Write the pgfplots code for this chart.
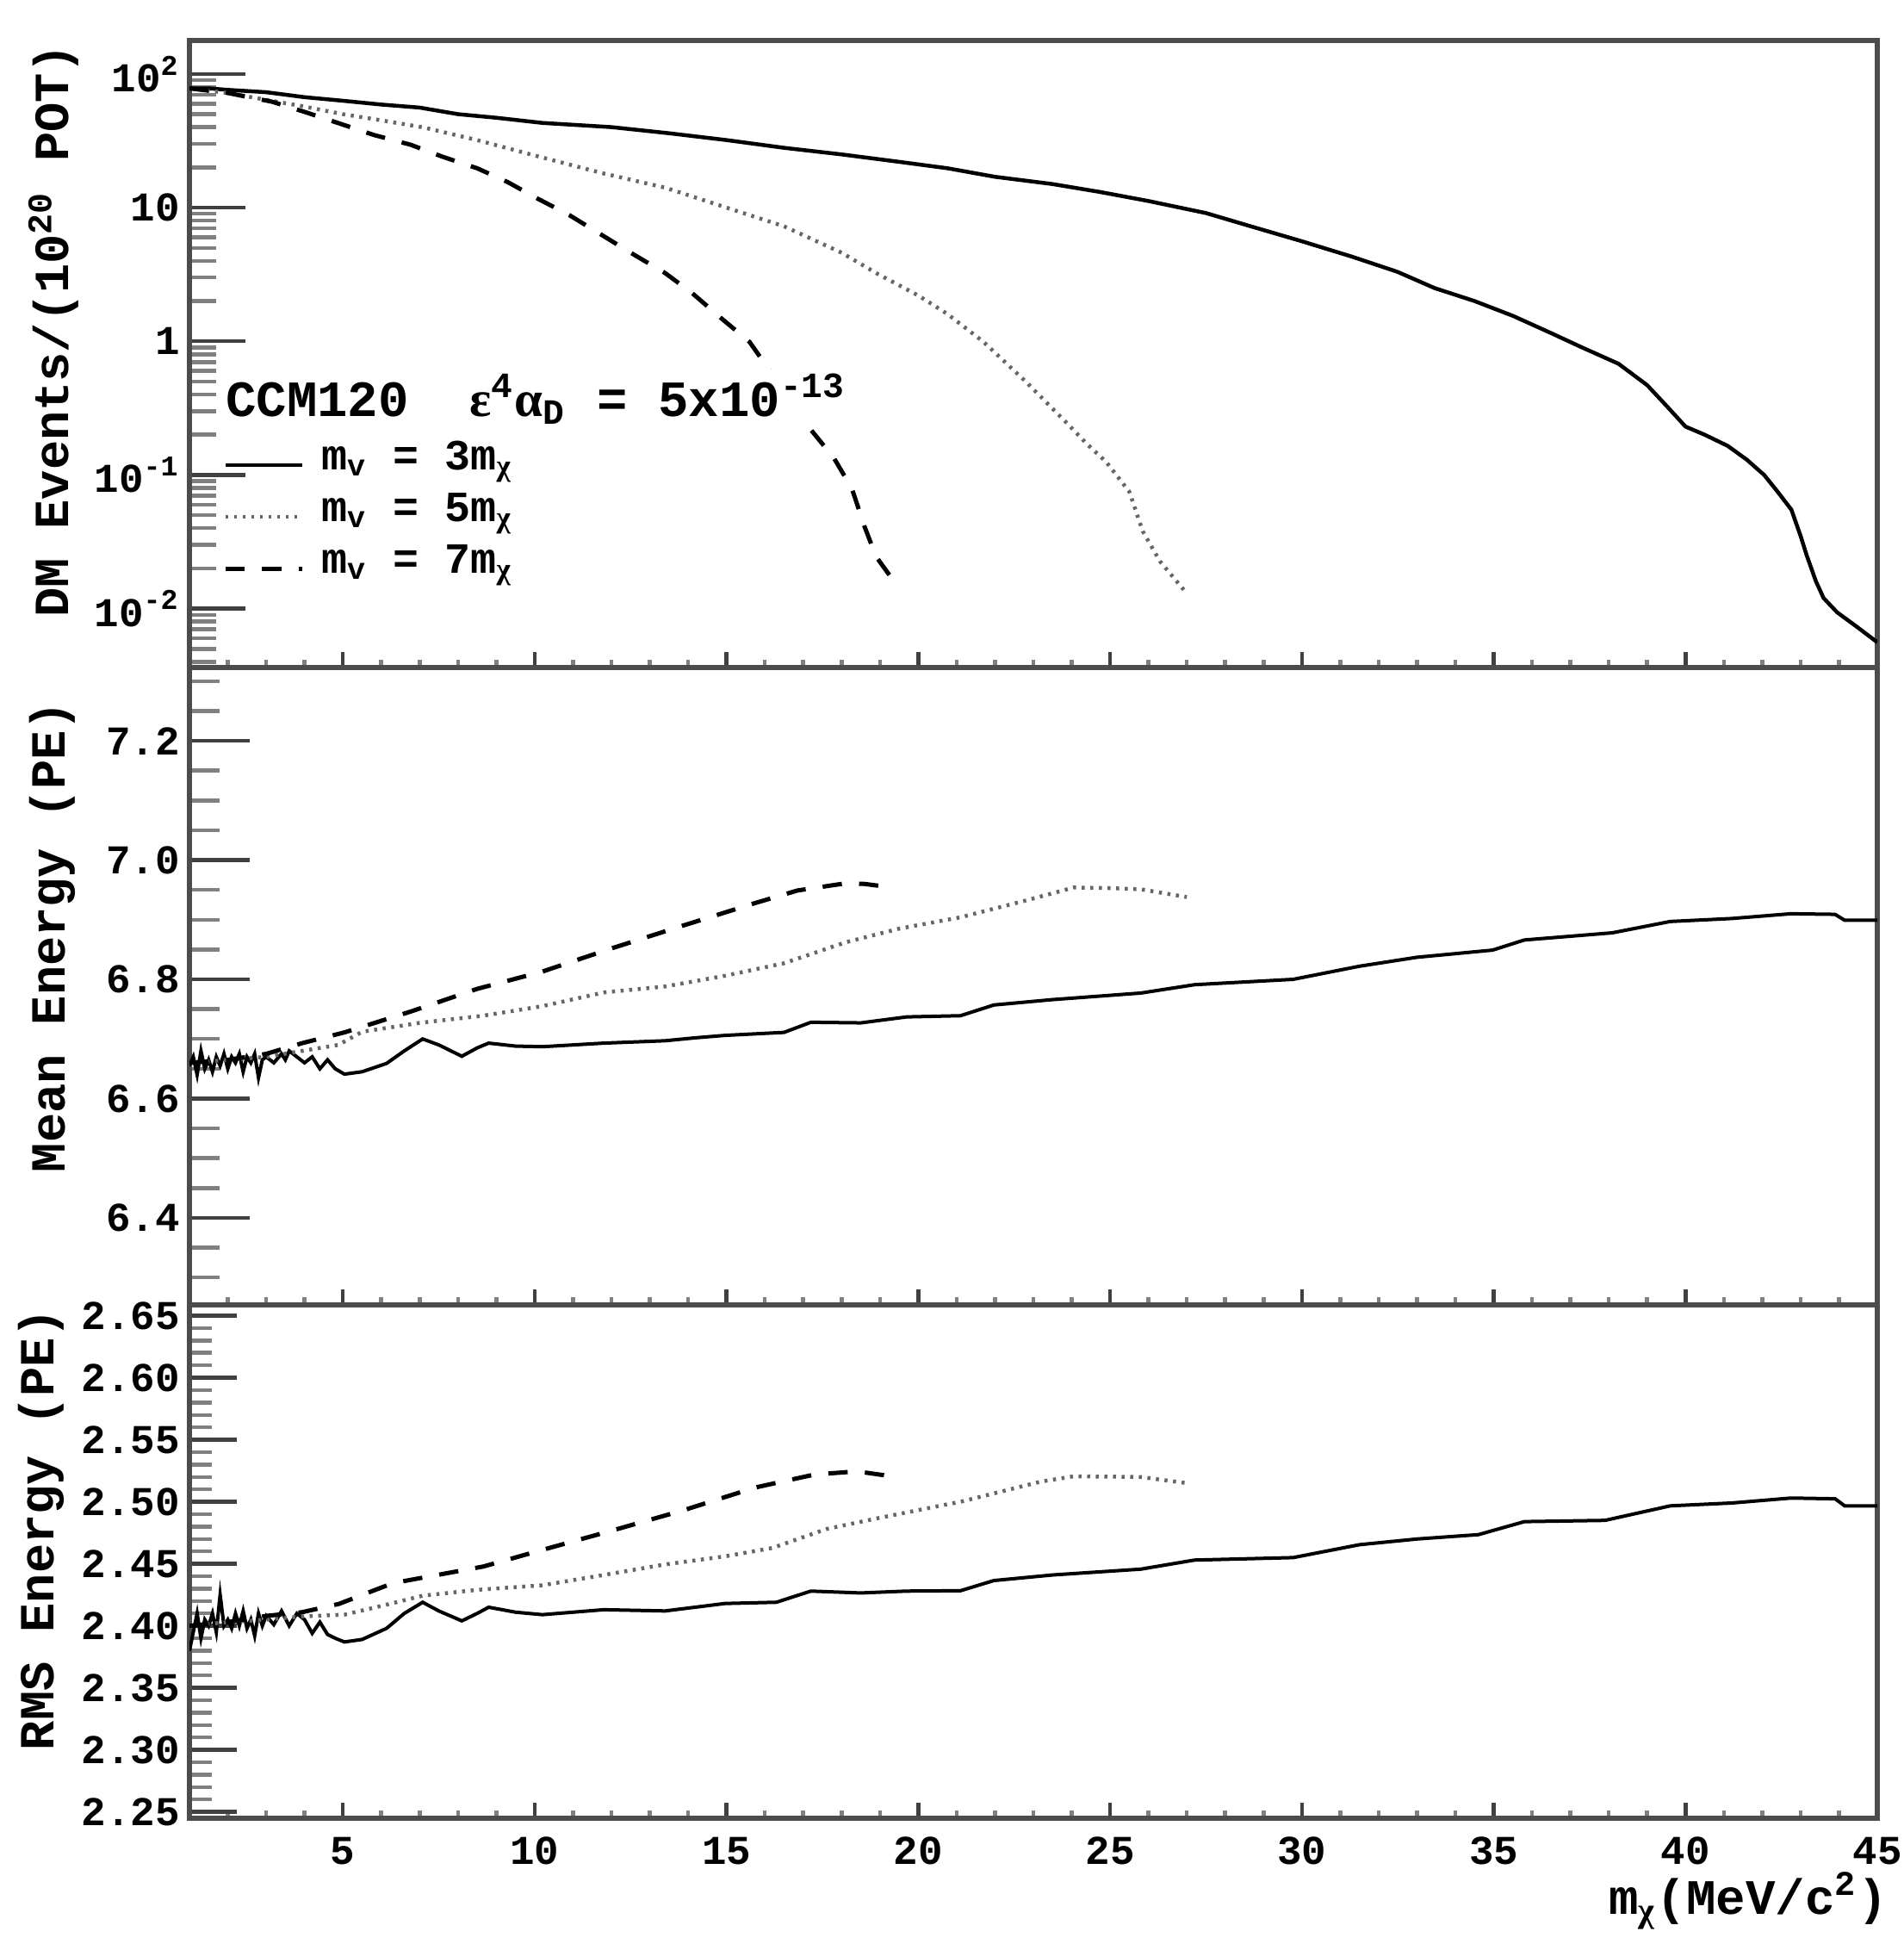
\documentclass[border=0pt]{standalone}
\usepackage{fontspec}
\setmainfont{Liberation Mono}
\newfontfamily\gr{Liberation Serif}
\usepackage{pgfplots}
\pgfplotsset{compat=1.18}
\pgfplotsset{
  ccm/.style={
    scale only axis, width=392pt,
    xmin=1, xmax=45,
    axis line style={draw=black!70, line width=1.1pt},
    tick align=inside,
    xtick pos=left, ytick pos=left,
    xtick={5,10,...,45},
    minor xtick={1,2,...,45},
    major tick length=3.6pt, minor tick length=1.8pt,
    tick style={color=black!75, line width=0.9pt},
    minor tick style={color=black!50},
    /pgf/number format/assume math mode=true,
    ticklabel style={font=\bfseries\fontsize{9.5}{10}\selectfont},
    xticklabel style={inner sep=0pt, yshift=-4.2pt},
    yticklabel style={inner sep=0pt, xshift=-2pt},
    label style={font=\bfseries\fontsize{11.4}{12}\selectfont},
    ylabel style={anchor=east, inner sep=0pt},
  },
  solidc/.style={black, line width=0.9pt},
  dotc/.style={black!60, line width=0.9pt, dash pattern=on 0.7pt off 1.3pt},
  dashc/.style={black, line width=1pt, dash pattern=on 4.5pt off 4pt},
}
\begin{document}
\begin{tikzpicture}
\useasboundingbox (-44pt,-29.2pt) rectangle (398pt,422.2pt);
% ---------------- top panel
\begin{axis}[ccm, at={(0,267.2pt)}, anchor=south west, height=145.6pt,
  ymode=log, ymin=0.00363, ymax=178,
  ytick={0.01,0.1,1,10,100},
  yticklabels={10\textsuperscript{-2},10\textsuperscript{-1},1,10,10\textsuperscript{2}},
  minor ytick={0.004,0.005,0.006,0.007,0.008,0.009,0.02,0.03,0.04,0.05,0.06,0.07,0.08,0.09,0.2,0.3,0.4,0.5,0.6,0.7,0.8,0.9,2,3,4,5,6,7,8,9,20,30,40,50,60,70,80,90},
  ytick style={/pgfplots/major tick length=13pt, /pgfplots/minor tick length=6.2pt},
  xticklabels={},
  ylabel={DM Events/(10\textsuperscript{20} POT)},
  ylabel style={at={(rel axis cs:-0.0806,0.996)}},
  legend style={at={(rel axis cs:0.022,0.379)}, anchor=north west, draw=none, fill=none,
    xshift=-4pt,
    font=\bfseries\fontsize{10}{10}\selectfont, row sep=0pt,
    nodes={inner sep=0pt, text height=7pt, text depth=5pt},
    /tikz/every odd column/.append style={column sep=4pt}},
  legend cell align=left,
  legend image code/.code={\draw[#1] (0pt,0pt) -- (17.8pt,0pt);},
]
\addplot[solidc] coordinates {
(1.0,78) (1.5,78) (2,76) (3,73) (4,67) (5,63) (6,59) (7,56) (8,50) (9,47) (10.2,43)
(12,40) (13.5,36) (15,32) (16.5,28) (18,25) (19.5,22) (20.76,19.7) (22,17) (23.5,15)
(24.73,13.1) (26,11.2) (27.5,9.1) (28.7,7.2) (30,5.6) (31.3,4.3) (32.5,3.3) (33.46,2.5)
(34.5,2.0) (35.5,1.55) (36.5,1.15) (37.3,0.9) (38.25,0.68) (39.0,0.47) (39.5,0.33)
(40.0,0.23) (40.5,0.2) (41.1,0.165) (41.6,0.13) (42.05,0.1) (42.4,0.075) (42.76,0.055)
(43.0,0.035) (43.16,0.025) (43.4,0.016) (43.6,0.012) (43.95,0.0094) (44.5,0.0072) (45,0.0056)
};
\addlegendentry{m\textsubscript{v} = 3m\textsubscript{{\gr χ}}}
\addplot[dotc] coordinates {
(1.0,78) (2,72) (3,64) (3.9,57.7) (5,50) (6,45) (7.1,39.8) (8.5,32) (10.2,23.7) (11.8,18)
(13.4,14.1) (15,10) (16.5,7.25) (18,4.6) (18.9,3.24) (20,2.2) (20.76,1.6) (21.7,0.99)
(22.8,0.50) (23.9,0.24) (24.4,0.17) (24.9,0.125) (25.5,0.075) (25.85,0.038) (26.3,0.0226) (27.0,0.013)
};
\addlegendentry{m\textsubscript{v} = 5m\textsubscript{{\gr χ}}}
\addplot[dashc] coordinates {
(1.0,78) (2,72) (3.15,62) (4.0,52) (4.9,42.7) (5.8,35) (6.77,29.5) (7.6,24) (8.5,19.7)
(9.3,15.5) (10.07,11.7) (10.9,8.8) (11.65,6.5) (12.5,4.6) (13.4,3.24) (14.1,2.3) (14.8,1.54)
(15.6,0.99) (16.0,0.68) (16.6,0.4) (17.16,0.225) (17.8,0.134) (18.27,0.079) (18.6,0.041)
(18.9,0.0245) (19.3,0.017)
};
\addlegendentry{m\textsubscript{v} = 7m\textsubscript{{\gr χ}}}
\node[anchor=base west, fill=white, inner sep=1pt, font=\bfseries\fontsize{11.8}{12}\selectfont]
  at (rel axis cs:0.0185,0.401)
  {CCM120~~{\gr ε}\textsuperscript{4}{\gr α}\textsubscript{D} = 5x10\textsuperscript{-13}};
\end{axis}
% ---------------- middle panel
\begin{axis}[ccm, at={(0,119.2pt)}, anchor=south west, height=148pt,
  ymin=6.254, ymax=7.323,
  ytick={6.4,6.6,6.8,7.0,7.2},
  yticklabels={6.4,6.6,6.8,7.0,7.2},
  minor ytick={6.25,6.3,6.35,6.4,6.45,6.5,6.55,6.6,6.65,6.7,6.75,6.8,6.85,6.9,6.95,7.0,7.05,7.1,7.15,7.2,7.25,7.3},
  ytick style={/pgfplots/major tick length=14pt, /pgfplots/minor tick length=7pt},
  xticklabels={},
  ylabel={Mean Energy (PE)},
  ylabel style={at={(rel axis cs:-0.0811,0.949)}},
]
\addplot[solidc, line width=0.8pt] coordinates {
(1.0,6.655) (1.1,6.67) (1.2,6.64) (1.3,6.68) (1.4,6.65) (1.5,6.665) (1.6,6.645) (1.7,6.67)
(1.8,6.655) (1.9,6.675) (2.0,6.65) (2.1,6.67) (2.2,6.66) (2.3,6.675) (2.4,6.645) (2.5,6.67)
(2.6,6.66) (2.7,6.675) (2.8,6.635) (2.9,6.665) (3.0,6.67) (3.2,6.66) (3.4,6.675) (3.5,6.665)
(3.6,6.68) (3.8,6.67) (4.0,6.66) (4.2,6.67) (4.4,6.65) (4.6,6.665) (4.8,6.65) (5.04,6.641)
(5.5,6.645) (6.14,6.659) (6.6,6.68) (7.08,6.70) (7.5,6.69) (8.1,6.671) (8.5,6.685) (8.8,6.693)
(9.5,6.688) (10.2,6.687) (11,6.69) (11.8,6.693) (12.6,6.695) (13.4,6.697) (14.2,6.702)
(14.96,6.706) (16.5,6.711) (17.2,6.728) (18.5,6.727) (19.7,6.737) (21.1,6.739) (21.97,6.757)
(23.5,6.766) (25.8,6.777) (27.2,6.791) (29.77,6.80) (31.5,6.822) (33,6.837) (34.97,6.849)
(35.8,6.866) (38.09,6.878) (39.6,6.897) (41.2,6.902) (42.75,6.910) (43.9,6.909) (44.15,6.899) (45,6.899)
};
\addplot[dotc] coordinates {
(1.0,6.66) (2,6.665) (3,6.67) (3.94,6.68) (4.88,6.69) (5.5,6.712) (7,6.727) (8.66,6.739)
(10.2,6.755) (11.8,6.778) (13.4,6.788) (14.96,6.806) (16.5,6.827) (18.1,6.862) (19.5,6.885)
(21.1,6.904) (22.85,6.933) (24.05,6.954) (25.0,6.953) (25.8,6.951) (27.0,6.938)
};
\addplot[dashc] coordinates {
(1,6.66) (2,6.665) (3,6.675) (3.94,6.693) (5.04,6.711) (6.77,6.746) (8.5,6.784) (10.2,6.813)
(11.96,6.851) (13.86,6.890) (15.75,6.928) (16.85,6.949) (18.1,6.961) (18.6,6.96) (19.2,6.955)
};
\end{axis}
% ---------------- bottom panel
\begin{axis}[ccm, at={(0,0)}, anchor=south west, height=119.2pt,
  ymin=2.2449, ymax=2.6587,
  ytick={2.25,2.30,2.35,2.40,2.45,2.50,2.55,2.60,2.65},
  yticklabels={2.25,2.30,2.35,2.40,2.45,2.50,2.55,2.60,2.65},
  minor ytick={2.25,2.26,...,2.65},
  ytick style={/pgfplots/major tick length=11pt, /pgfplots/minor tick length=5.2pt},
  xticklabels={5,10,15,20,25,30,35,40,45},
  ylabel={RMS Energy (PE)},
  ylabel style={at={(rel axis cs:-0.088,0.995)}},
  xlabel={m\textsubscript{{\gr χ}}(MeV/c\textsuperscript{2})},
  xlabel style={at={(rel axis cs:1,0)}, anchor=base east, yshift=-22.3pt, xshift=2.6pt,
    inner sep=0pt, font=\bfseries\fontsize{11.5}{12}\selectfont},
]
\addplot[solidc, line width=0.8pt] coordinates {
(1.0,2.38) (1.1,2.395) (1.2,2.41) (1.3,2.39) (1.4,2.405) (1.5,2.40) (1.6,2.41) (1.7,2.395)
(1.8,2.425) (1.9,2.40) (2.0,2.405) (2.1,2.398) (2.2,2.41) (2.3,2.40) (2.4,2.412) (2.5,2.398)
(2.6,2.405) (2.7,2.392) (2.8,2.41) (2.9,2.40) (3.0,2.408) (3.2,2.401) (3.4,2.412) (3.6,2.40)
(3.8,2.41) (4.0,2.405) (4.2,2.394) (4.4,2.403) (4.6,2.393) (4.8,2.39) (5.04,2.387) (5.5,2.389)
(6.14,2.398) (6.6,2.41) (7.08,2.419) (7.5,2.412) (8.1,2.404) (8.5,2.41) (8.8,2.415) (9.5,2.411)
(10.2,2.409) (11,2.411) (11.8,2.413) (13.4,2.412) (14.96,2.418) (16.3,2.419) (17.2,2.428)
(18.5,2.4265) (19.7,2.428) (21.1,2.4283) (21.97,2.4365) (23.5,2.441) (25.8,2.4457) (27.2,2.453)
(29.77,2.455) (31.5,2.4654) (33,2.470) (34.6,2.4735) (35.8,2.484) (37.9,2.485) (39.6,2.4967)
(41.2,2.499) (42.75,2.503) (43.9,2.5024) (44.15,2.4967) (45,2.4967)
};
\addplot[dotc] coordinates {
(1,2.40) (2,2.403) (3,2.405) (3.94,2.4076) (5.04,2.409) (6,2.416) (7.08,2.4243) (8.5,2.429)
(10.2,2.4327) (11.8,2.441) (13.4,2.4495) (14.96,2.456) (16.2,2.4628) (17.6,2.478) (18.9,2.4865)
(20.76,2.498) (21.1,2.50) (23.2,2.5163) (24.05,2.5205) (25.8,2.52) (27.0,2.515)
};
\addplot[dashc] coordinates {
(1,2.40) (2,2.403) (3,2.408) (3.94,2.411) (4.9,2.4177) (6.3,2.4344) (8.66,2.4478) (10.2,2.4612)
(11.96,2.4763) (13.86,2.493) (15.75,2.5115) (17.3,2.522) (18.4,2.5245) (19.2,2.521)
};
\end{axis}
\end{tikzpicture}
\end{document}
